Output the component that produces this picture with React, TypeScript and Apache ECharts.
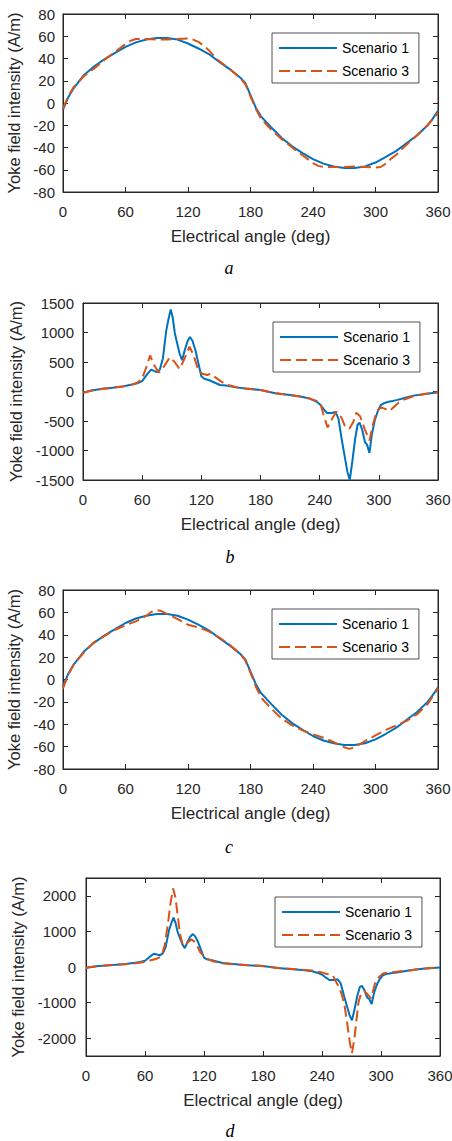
import React, { useEffect, useRef } from "react";
import * as echarts from "echarts";

// ---------- data ----------
const ANGLE_TICKS = [0, 60, 120, 180, 240, 300, 360];

// Scenario 1, smooth curve (panels a and c)
const S1_SMOOTH_X = [0, 5, 10, 15, 20, 30, 40, 50, 60, 70, 80, 90, 100, 110, 120, 130, 140, 150, 160, 170, 175, 180, 185, 190, 200, 210, 220, 230, 240, 250, 260, 270, 280, 290, 300, 310, 320, 330, 340, 350, 355, 360];
const S1_SMOOTH_Y = [-6, 5, 13, 19, 25, 33, 39.5, 45, 50.5, 54.5, 57, 58.5, 58.5, 57, 53.5, 49, 44, 37, 30.5, 23, 18, 7, -4, -12, -22, -31.5, -39, -45, -50.5, -54.5, -57, -58.5, -58.5, -57, -53.5, -48.5, -43, -36, -29, -20, -14, -7];

// Scenario 3, panel a
const S3_A_X = [0, 5, 10, 20, 30, 40, 50, 60, 65, 70, 80, 90, 100, 110, 120, 125, 130, 135, 140, 148, 160, 170, 175, 180, 185, 190, 200, 210, 220, 230, 240, 245, 250, 260, 270, 280, 290, 300, 305, 310, 315, 320, 328, 340, 350, 360];
const S3_A_Y = [-5, 6, 14, 24, 31, 39, 46, 53, 56, 57.5, 57.5, 57, 57, 57.5, 58, 57, 55, 51.5, 47.5, 39, 30.5, 22.5, 17, 6, -5, -14, -24, -32.5, -40, -47, -54, -56.5, -57.5, -57.5, -57.5, -57, -57.5, -58, -57.5, -54.5, -50, -46.5, -39, -29, -20, -9];

// Scenario 3, panel c
const S3_C_X = [0, 5, 10, 20, 30, 40, 50, 60, 70, 80, 85, 90, 95, 100, 110, 120, 130, 140, 150, 160, 170, 175, 180, 185, 190, 200, 210, 220, 230, 240, 250, 260, 270, 275, 280, 290, 300, 310, 320, 330, 340, 350, 360];
const S3_C_Y = [-8, 4, 13, 24, 33.5, 39, 44.5, 48.5, 52, 57, 60.5, 62, 61, 58.5, 54, 49, 46.5, 43, 37.5, 31, 23, 17, 6, -6, -16, -26, -35, -41, -45.5, -49, -52, -56, -60.5, -62, -60.5, -55, -50, -45, -41, -37, -31, -22, -8];

// Scenario 1, spiky curve (panels b and d)
const S1_SPIKE_X = [0, 10, 20, 30, 40, 50, 55, 60, 65, 69, 72, 75, 78, 81, 84.5, 87, 89, 91, 93, 95, 98, 100.5, 103, 106, 108.5, 111, 114, 117, 120, 123, 128, 139, 145, 155, 165, 180, 195, 210, 220, 230, 237, 241, 244, 247.5, 252.5, 256, 259, 262.5, 266, 268, 270.5, 273, 276, 278.5, 280.5, 283, 286, 288, 290.5, 293, 296, 299, 302, 305, 310, 318, 325, 335, 345, 360];
const S1_SPIKE_Y = [-22, 20, 45, 62, 85, 120, 140, 175, 290, 372, 350, 330, 375, 560, 1040, 1250, 1390, 1250, 1000, 850, 640, 530, 690, 850, 925, 860, 700, 480, 260, 215, 190, 110, 100, 70, 50, 25, -30, -60, -85, -120, -175, -230, -300, -365, -365, -345, -456, -823, -1160, -1350, -1500, -1200, -800, -560, -530, -640, -860, -900, -1040, -720, -480, -330, -230, -200, -175, -146, -115, -70, -45, -12];

// Scenario 3, panel b
const S3_B_X = [0, 10, 20, 30, 40, 50, 55, 60, 64, 68, 72, 77, 82, 88, 93, 98, 103, 108, 112, 117, 121, 126, 129, 135, 141, 147, 155, 165, 180, 195, 210, 220, 230, 237, 241, 244, 248, 252, 257, 262, 266, 270, 274, 277, 281, 286, 290.5, 294, 298, 302, 306, 311, 316, 320, 325, 335, 345, 360];
const S3_B_Y = [-22, 20, 45, 62, 85, 120, 150, 220, 400, 610, 450, 320, 420, 580, 500, 380, 560, 760, 620, 360, 300, 280, 300, 230, 160, 110, 75, 50, 25, -30, -60, -85, -120, -160, -220, -400, -610, -480, -340, -440, -600, -630, -520, -360, -420, -650, -830, -560, -330, -270, -290, -330, -250, -190, -140, -80, -45, -12];

// Scenario 3, panel d
const S3_D_X = [0, 10, 20, 30, 40, 50, 55, 60, 65, 70, 74, 77, 80, 83, 86, 88.5, 91, 93, 95.5, 98.5, 101, 104, 107, 110, 113, 116, 120, 124, 128, 134, 140, 150, 165, 180, 195, 210, 220, 230, 238, 243, 248, 251, 254, 257, 260, 263, 266, 268.5, 270.5, 273, 275, 277, 280, 283, 286, 290, 294, 298, 302, 310, 320, 330, 345, 360];
const S3_D_Y = [-22, 15, 40, 60, 80, 105, 120, 150, 185, 215, 260, 330, 600, 1150, 1800, 2210, 1950, 1500, 950, 600, 620, 700, 775, 720, 600, 420, 300, 220, 170, 130, 100, 75, 50, 25, -25, -55, -75, -100, -140, -180, -210, -240, -400, -550, -760, -1100, -1650, -2150, -2420, -2000, -1500, -1000, -720, -680, -760, -880, -450, -280, -180, -150, -120, -90, -45, -12];

const SERIES_NAMES = ["Scenario 1", "Scenario 3"];
const PANEL_LABELS = ["a", "b", "c", "d"];

// ---------- style / layout ----------
const BLUE = "#0072BD";
const ORANGE = "#D95319";
const INK = "#262626";
const FONT = "'Liberation Sans', Arial, Helvetica, sans-serif";

const pairs = (xs: number[], ys: number[]) => xs.map((x, i) => [x, ys[i]]);

type Panel = {
  grid: { left: number; top: number; width: number; height: number };
  yMin: number;
  yMax: number;
  yTicks: number[];
  labelMargin: number;
  nameGap: number;
  legend: { left: number; top: number };
  caption: { x: number; y: number };
  s1: number[][];
  s3: number[][];
};

const range = (a: number, b: number, step: number) => {
  const out: number[] = [];
  for (let v = a; v <= b + 1e-9; v += step) out.push(v);
  return out;
};

const PANELS: Panel[] = [
  {
    grid: { left: 63, top: 14, width: 375, height: 178 },
    yMin: -80, yMax: 80, yTicks: range(-80, 80, 20),
    labelMargin: 8, nameGap: 39,
    legend: { left: 272, top: 33 },
    caption: { x: 229, y: 268 },
    s1: pairs(S1_SMOOTH_X, S1_SMOOTH_Y),
    s3: pairs(S3_A_X, S3_A_Y),
  },
  {
    grid: { left: 83, top: 303, width: 355, height: 177 },
    yMin: -1500, yMax: 1500, yTicks: range(-1500, 1500, 500),
    labelMargin: 9, nameGap: 59,
    legend: { left: 273, top: 322 },
    caption: { x: 230, y: 557 },
    s1: pairs(S1_SPIKE_X, S1_SPIKE_Y),
    s3: pairs(S3_B_X, S3_B_Y),
  },
  {
    grid: { left: 63, top: 590, width: 375, height: 179 },
    yMin: -80, yMax: 80, yTicks: range(-80, 80, 20),
    labelMargin: 8, nameGap: 39,
    legend: { left: 272, top: 609 },
    caption: { x: 229, y: 847 },
    s1: pairs(S1_SMOOTH_X, S1_SMOOTH_Y),
    s3: pairs(S3_C_X, S3_C_Y),
  },
  {
    grid: { left: 86, top: 878, width: 354, height: 178 },
    yMin: -2500, yMax: 2500, yTicks: range(-2000, 2000, 1000),
    labelMargin: 10, nameGap: 58,
    legend: { left: 275, top: 897 },
    caption: { x: 230, y: 1131 },
    s1: pairs(S1_SPIKE_X, S1_SPIKE_Y),
    s3: pairs(S3_D_X, S3_D_Y),
  },
];

function buildOption() {
  const grid: any[] = [];
  const xAxis: any[] = [];
  const yAxis: any[] = [];
  const series: any[] = [];
  const legend: any[] = [];
  const graphic: any[] = [];

  const plain = (v: number) => String(v);
  const mkLine = () => ({ show: true, onZero: false, lineStyle: { color: INK, width: 1 } });

  PANELS.forEach((p, i) => {
    grid.push({
      ...p.grid,
      show: true,
      borderColor: INK,
      borderWidth: 1,
      backgroundColor: "transparent",
      outerBoundsMode: "none",
      containLabel: false,
    });

    const xBase = () => ({
      type: "value",
      gridIndex: i,
      min: 0,
      max: 360,
      interval: 60,
      splitLine: { show: false },
      axisLine: mkLine(),
      axisTick: { show: true, inside: true, length: 5, lineStyle: { color: INK } },
    });
    xAxis.push({
      ...xBase(),
      position: "bottom",
      axisLabel: { show: true, color: INK, fontSize: 15, fontFamily: FONT, margin: 12, formatter: plain, customValues: ANGLE_TICKS },
      name: "Electrical angle (deg)",
      nameLocation: "middle",
      nameGap: 36,
      nameTextStyle: { color: INK, fontSize: 17, fontFamily: FONT },
    });
    xAxis.push({ ...xBase(), position: "top", axisLabel: { show: false } });

    const yBase = () => ({
      type: "value",
      gridIndex: i,
      min: p.yMin,
      max: p.yMax,
      splitLine: { show: false },
      axisLine: mkLine(),
      axisTick: { show: true, inside: true, length: 5, lineStyle: { color: INK }, customValues: p.yTicks },
    });
    yAxis.push({
      ...yBase(),
      position: "left",
      axisLabel: { show: true, color: INK, fontSize: 15, fontFamily: FONT, margin: p.labelMargin, formatter: plain, customValues: p.yTicks },
      name: "Yoke field intensity (A/m)",
      nameLocation: "middle",
      nameGap: p.nameGap,
      nameTextStyle: { color: INK, fontSize: 16.5, fontFamily: FONT },
    });
    yAxis.push({ ...yBase(), position: "right", axisLabel: { show: false } });

    series.push({
      type: "line",
      name: SERIES_NAMES[0],
      xAxisIndex: 2 * i,
      yAxisIndex: 2 * i,
      data: p.s1,
      showSymbol: false,
      symbol: "none",
      smooth: false,
      lineStyle: { color: BLUE, width: 2 },
      itemStyle: { color: BLUE },
      z: 2,
    });
    series.push({
      type: "line",
      name: SERIES_NAMES[1],
      xAxisIndex: 2 * i,
      yAxisIndex: 2 * i,
      data: p.s3,
      showSymbol: false,
      symbol: "none",
      smooth: false,
      lineStyle: { color: ORANGE, width: 2, type: [11, 5] },
      itemStyle: { color: ORANGE },
      z: 3,
    });
    // empty carrier series so the mirrored (top / right) axes are laid out
    series.push({
      type: "line",
      name: "frame-" + i,
      xAxisIndex: 2 * i + 1,
      yAxisIndex: 2 * i + 1,
      data: [],
      showSymbol: false,
      symbol: "none",
      silent: true,
    });

    legend.push({
      data: SERIES_NAMES,
      orient: "vertical",
      left: p.legend.left,
      top: p.legend.top,
      padding: [8, 10, 5, 6],
      itemWidth: 58,
      itemHeight: 14,
      itemGap: 9,
      backgroundColor: "#ffffff",
      borderColor: INK,
      borderWidth: 0.8,
      borderRadius: 0,
      selectedMode: false,
      itemStyle: { opacity: 0, color: "transparent", borderWidth: 0 },
      textStyle: { color: "#000", fontSize: 14, fontFamily: FONT },
    });

    graphic.push({
      type: "text",
      x: p.caption.x,
      y: p.caption.y,
      style: {
        text: PANEL_LABELS[i],
        font: "italic 18px 'Liberation Serif', 'Times New Roman', serif",
        fill: "#000",
        textAlign: "center",
        textVerticalAlign: "middle",
        align: "center",
        verticalAlign: "middle",
      },
    });
  });

  return {
    animation: false,
    backgroundColor: "#ffffff",
    grid,
    xAxis,
    yAxis,
    series,
    legend,
    graphic,
  };
}

export default function App() {
  const ref = useRef<HTMLDivElement>(null);
  useEffect(() => {
    if (!ref.current) return;
    const chart = echarts.init(ref.current, undefined, { renderer: "svg" });
    chart.setOption(buildOption() as any);
    return () => chart.dispose();
  }, []);
  return (
    <div
      ref={ref}
      style={{ position: "absolute", left: 0, top: 0, width: 452, height: 1141, background: "#fff" }}
    />
  );
}
